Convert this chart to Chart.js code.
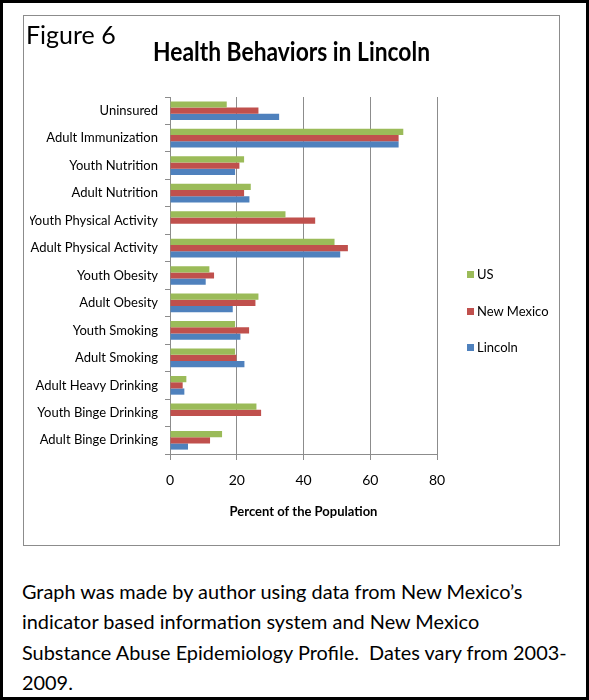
<!DOCTYPE html>
<html>
<head>
<meta charset="utf-8">
<script src="https://cdn.jsdelivr.net/npm/chart.js@4"></script>
<style>
  html, body { margin: 0; padding: 0; background: #fff; }
  #page { position: relative; width: 589px; height: 700px; box-sizing: border-box; border: 3px solid #000; overflow: hidden; }
  #box { position: absolute; left: 20px; top: 12px; width: 537px; height: 531px; box-sizing: border-box; border: 1px solid #8c8c8c; }
  #chart { position: absolute; left: 20px; top: 12px; }
  #fig { position: absolute; left: 23px; top: 16px; font-family: Lato, sans-serif; font-size: 25px; color: #000; }
  #legend { position: absolute; left: 464px; top: 261px; font-family: Lato, sans-serif; font-size: 13px; color: #000; }
  .li { position: relative; height: 36.5px; line-height: 20px; padding-left: 10px; white-space: nowrap; }
  .sw { position: absolute; left: 0; top: 7px; width: 7px; height: 7px; }
  #note { position: absolute; left: 19px; top: 573px; font-family: Lato, sans-serif; font-size: 19.9px; line-height: 30.4px; color: #000; white-space: nowrap; }
</style>
</head>
<body>
<div id="page">
  <div id="box"></div>
  <canvas id="chart" width="537" height="531"></canvas>
  <div id="fig">Figure 6</div>
  <div id="legend"></div>
  <div id="note">Graph was made by author using data from New Mexico’s<br>indicator based information system and New Mexico<br>Substance Abuse Epidemiology Profile.&nbsp; Dates vary from 2003-<br>2009.</div>
</div>
<script>
const categories = ["Uninsured", "Adult Immunization", "Youth Nutrition", "Adult Nutrition",
  "Youth Physical Activity", "Adult Physical Activity", "Youth Obesity", "Adult Obesity",
  "Youth Smoking", "Adult Smoking", "Adult Heavy Drinking", "Youth Binge Drinking", "Adult Binge Drinking"];
const seriesNames = ["US", "New Mexico", "Lincoln"];
const usValues        = [17.0, 69.9, 22.2, 24.2, 34.6, 49.3, 11.8, 26.5, 19.5, 19.5, 4.9, 25.9, 15.6];
const newMexicoValues = [26.5, 68.5, 20.8, 22.2, 43.5, 53.3, 13.2, 25.6, 23.7, 19.9, 3.8, 27.3, 12.0];
const lincolnValues   = [32.7, 68.5, 19.5, 23.8, null, 51.0, 10.7, 18.8, 21.1, 22.3, 4.3, null, 5.4];
const xTicks = [0, 20, 40, 60, 80];
const chartTitle = "Health Behaviors in Lincoln";
const seriesColors = ["#9BBB59", "#C0504D", "#4F81BD"];

const gridColor = "#8c8c8c";
const tickFont = { family: "Lato, sans-serif", size: 13 };

// Title drawn condensed (the original uses a narrow bold face)
const condensedTitle = {
  id: "condensedTitle",
  afterDraw(chart, args, opts) {
    const ctx = chart.ctx;
    ctx.save();
    ctx.font = "bold 26px Lato, sans-serif";
    ctx.fillStyle = "#000";
    ctx.textAlign = "center";
    ctx.textBaseline = "middle";
    const w = ctx.measureText(opts.text).width;
    ctx.translate(chart.width / 2, opts.y);
    ctx.scale(opts.width / w, 1);
    ctx.fillText(opts.text, 0, 0);
    ctx.restore();
  }
};

const values = [usValues, newMexicoValues, lincolnValues];
const datasets = seriesNames.map((name, i) => ({
  label: name,
  data: values[i],
  backgroundColor: seriesColors[i],
  borderWidth: 0,
  categoryPercentage: 0.68,
  barPercentage: 1.0
}));

new Chart(document.getElementById("chart"), {
  type: "bar",
  data: { labels: categories, datasets },
  plugins: [condensedTitle],
  options: {
    indexAxis: "y",
    responsive: false,
    animation: false,
    layout: { padding: { left: 7, right: 123, top: 82, bottom: 0 } },
    plugins: {
      legend: { display: false },
      tooltip: { enabled: false },
      title: { display: false },
      condensedTitle: { text: chartTitle, y: 38, width: 277 }
    },
    scales: {
      x: {
        min: xTicks[0],
        max: xTicks[xTicks.length - 1],
        afterBuildTicks: (s) => { s.ticks = xTicks.map(v => ({ value: v })); },
        ticks: { padding: 12, color: "#000", font: { family: "Lato, sans-serif", size: 14 } },
        grid: { color: gridColor, tickLength: 6, drawTicks: true },
        border: { color: gridColor },
        title: {
          display: true,
          text: "Percent of the Population",
          color: "#000",
          font: { family: "Lato, sans-serif", size: 13, weight: "bold" },
          padding: { top: 0, bottom: 26 }
        },
        afterFit: (s) => { s.height = 92; }
      },
      y: {
        grid: { offset: true, drawOnChartArea: false, tickLength: 5, color: gridColor },
        border: { color: gridColor },
        ticks: { padding: 7, color: "#000", font: tickFont, autoSkip: false },
        afterFit: (s) => { s.width = 140; }
      }
    }
  }
});

const legend = document.getElementById("legend");
seriesNames.forEach((name, i) => {
  const d = document.createElement("div");
  d.className = "li";
  d.innerHTML = '<span class="sw" style="background:' + seriesColors[i] + '"></span>' + name;
  legend.appendChild(d);
});
</script>
</body>
</html>
